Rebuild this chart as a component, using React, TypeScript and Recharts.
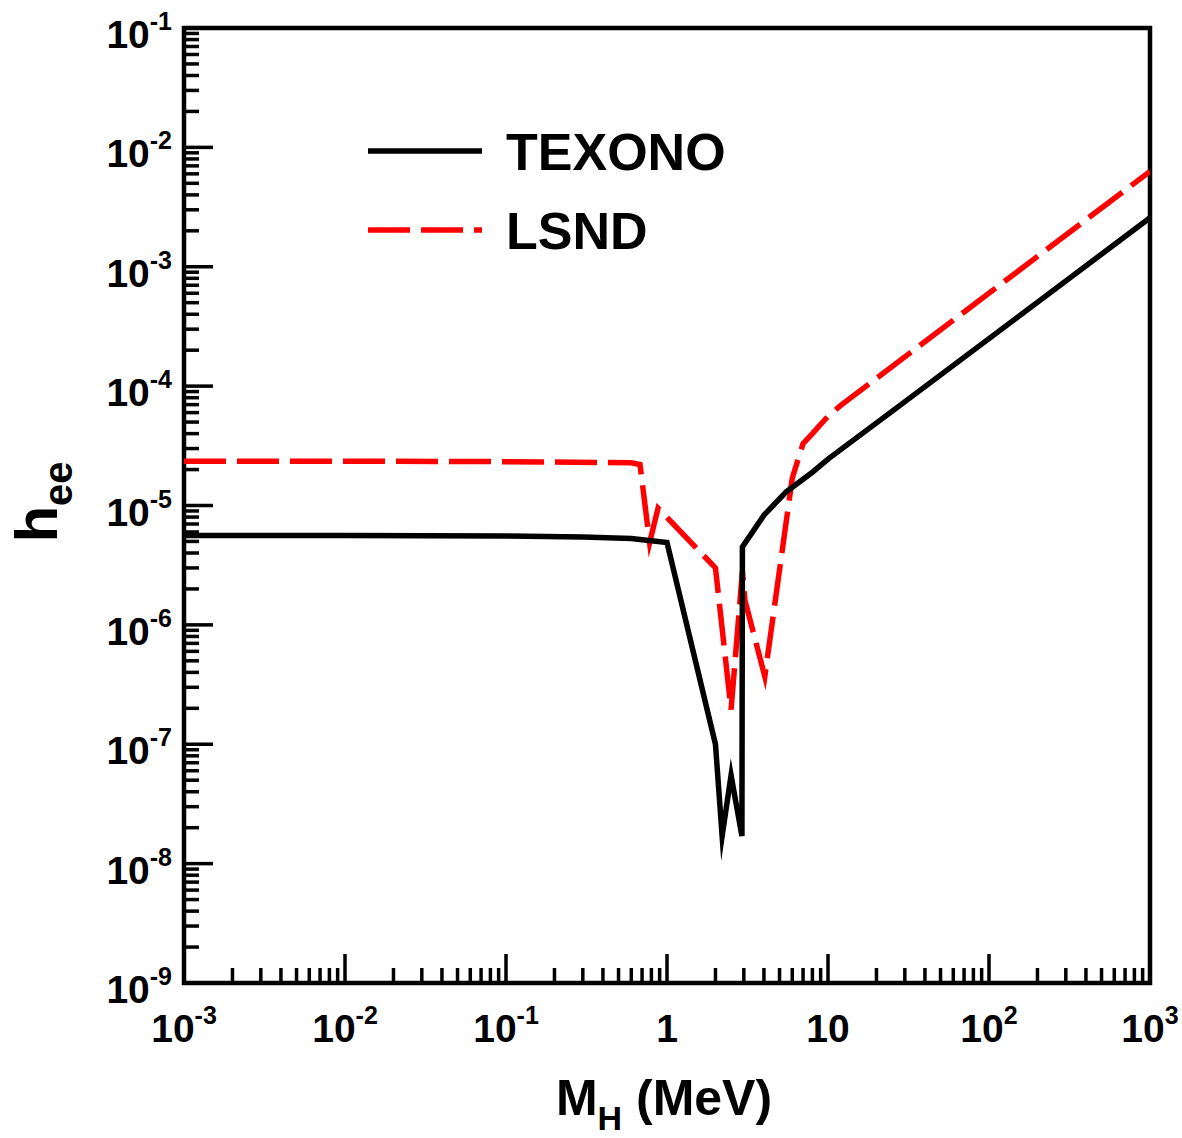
import React from 'react';
import { LineChart, Line, XAxis, YAxis, ReferenceArea, Legend } from 'recharts';

// ---- data ----
const texonoData = [
  { x: 0.001, y: 5.6e-6 },
  { x: 0.01, y: 5.6e-6 },
  { x: 0.1, y: 5.55e-6 },
  { x: 0.3, y: 5.45e-6 },
  { x: 0.6, y: 5.3e-6 },
  { x: 1.0, y: 4.9e-6 },
  { x: 2.0, y: 1.0e-7 },
  { x: 2.2, y: 1.7e-8 },
  { x: 2.5, y: 5.5e-8 },
  { x: 2.92, y: 1.7e-8 },
  { x: 2.94, y: 4.5e-6 },
  { x: 4.0, y: 8.3e-6 },
  { x: 5.5, y: 1.3e-5 },
  { x: 8.0, y: 1.9e-5 },
  { x: 10, y: 2.45e-5 },
  { x: 28, y: 6.9e-5 },
  { x: 1000, y: 2.57e-3 },
];

const lsndData = [
  { x: 0.001, y: 2.35e-5 },
  { x: 0.01, y: 2.35e-5 },
  { x: 0.1, y: 2.33e-5 },
  { x: 0.6, y: 2.28e-5 },
  { x: 0.68, y: 2.2e-5 },
  { x: 0.78, y: 4.9e-6 },
  { x: 0.88, y: 9.5e-6 },
  { x: 2.0, y: 3.0e-6 },
  { x: 2.5, y: 1.95e-7 },
  { x: 2.94, y: 2.8e-6 },
  { x: 3.05, y: 1.6e-6 },
  { x: 4.05, y: 3.7e-7 },
  { x: 6.0, y: 1.7e-5 },
  { x: 7.0, y: 3.3e-5 },
  { x: 8.0, y: 4.0e-5 },
  { x: 10, y: 5.6e-5 },
  { x: 12, y: 6.9e-5 },
  { x: 1000, y: 6.3e-3 },
];

const xMajor = [1e-3, 1e-2, 1e-1, 1, 10, 1e2, 1e3];
const xMajorLabels = [
  { base: '10', exp: '-3' },
  { base: '10', exp: '-2' },
  { base: '10', exp: '-1' },
  { base: '1', exp: '' },
  { base: '10', exp: '' },
  { base: '10', exp: '2' },
  { base: '10', exp: '3' },
];
const yMajor = [1e-9, 1e-8, 1e-7, 1e-6, 1e-5, 1e-4, 1e-3, 1e-2, 1e-1];
const yMajorLabels = [
  { base: '10', exp: '-9' },
  { base: '10', exp: '-8' },
  { base: '10', exp: '-7' },
  { base: '10', exp: '-6' },
  { base: '10', exp: '-5' },
  { base: '10', exp: '-4' },
  { base: '10', exp: '-3' },
  { base: '10', exp: '-2' },
  { base: '10', exp: '-1' },
];
const minorMultipliers = [2, 3, 4, 5, 6, 7, 8, 9];

const seriesNames = ['TEXONO', 'LSND'];
const xTitle = { main: 'M', sub: 'H', rest: ' (MeV)' };
const yTitle = { main: 'h', sub: 'ee' };

const buildTicks = (majors: number[]) => {
  const out: number[] = [];
  majors.forEach((m, i) => {
    out.push(m);
    if (i < majors.length - 1) minorMultipliers.forEach((k) => out.push(m * k));
  });
  return out;
};
const xTicks = buildTicks(xMajor);
const yTicks = buildTicks(yMajor);

const FONT = '"Liberation Sans", Arial, Helvetica, sans-serif';
const DASH = '42 11';

const majorIndex = (majors: number[], v: number) =>
  majors.findIndex((m) => Math.abs(Math.log10(m) - Math.log10(v)) < 1e-6);

function XTick(props: any) {
  const { x, y, payload } = props;
  const idx = majorIndex(xMajor, payload.value);
  const major = idx >= 0;
  const len = major ? 29 : 15;
  const lab = major ? xMajorLabels[idx] : null;
  return (
    <g>
      <line x1={x} x2={x} y1={y} y2={y - len} stroke="#000" strokeWidth={3.5} />
      {lab && (
        <text x={x} y={y + 59} textAnchor="middle" fontFamily={FONT} fontWeight="bold" fontSize={39} fill="#000">
          {lab.base}
          {lab.exp && (
            <tspan dy={-18} fontSize={25}>
              {lab.exp}
            </tspan>
          )}
        </text>
      )}
    </g>
  );
}

function YTick(props: any) {
  const { x, y, payload } = props;
  const idx = majorIndex(yMajor, payload.value);
  const major = idx >= 0;
  const len = major ? 29 : 15;
  const lab = major ? yMajorLabels[idx] : null;
  return (
    <g>
      <line x1={x} x2={x + len} y1={y} y2={y} stroke="#000" strokeWidth={3.5} />
      {lab && (
        <text x={x - 12} y={y + 20} textAnchor="end" fontFamily={FONT} fontWeight="bold" fontSize={39} fill="#000">
          {lab.base}
          <tspan dy={-18} fontSize={25}>
            {lab.exp}
          </tspan>
        </text>
      )}
    </g>
  );
}

const XTitleLabel = () => (
  <text x={664} y={1115} textAnchor="middle" fontFamily={FONT} fontWeight="bold" fontSize={50} fill="#000">
    {xTitle.main}
    <tspan dy={15} fontSize={34}>{xTitle.sub}</tspan>
    <tspan dy={-15}>{xTitle.rest}</tspan>
  </text>
);

const YTitleLabel = () => (
  <text
    x={57}
    y={502}
    transform="rotate(-90 57 502)"
    textAnchor="middle"
    fontFamily={FONT}
    fontWeight="bold"
    fontSize={60}
    fill="#000"
  >
    {yTitle.main}
    <tspan dy={15} fontSize={40}>{yTitle.sub}</tspan>
  </text>
);

const LegendContent = () => (
  <svg width={420} height={180}>
    <line x1={8} x2={122} y1={51} y2={51} stroke="#000" strokeWidth={5.5} />
    <text x={146} y={70} fontFamily={FONT} fontWeight="bold" fontSize={52} fill="#000">
      {seriesNames[0]}
    </text>
    <line x1={8} x2={122} y1={130} y2={130} stroke="#ff0000" strokeWidth={5.5} strokeDasharray={DASH} />
    <text x={146} y={149} fontFamily={FONT} fontWeight="bold" fontSize={52} fill="#000">
      {seriesNames[1]}
    </text>
  </svg>
);

export default function App() {
  return (
    <div style={{ position: 'absolute', left: 0, top: 0, background: '#fff' }}>
      <LineChart width={1182} height={1138} margin={{ top: 28, right: 32, bottom: 95, left: 84 }}>
        <XAxis
          type="number"
          dataKey="x"
          scale="log"
          domain={[1e-3, 1e3]}
          allowDataOverflow
          ticks={xTicks}
          interval={0}
          tick={(p: any) => <XTick {...p} />}
          tickSize={0}
          tickMargin={0}
          tickLine={false}
          axisLine={false}
          height={60}
          label={() => <XTitleLabel />}
        />
        <YAxis
          type="number"
          dataKey="y"
          scale="log"
          domain={[1e-9, 1e-1]}
          allowDataOverflow
          ticks={yTicks}
          interval={0}
          tick={(p: any) => <YTick {...p} />}
          tickSize={0}
          tickMargin={0}
          tickLine={false}
          axisLine={false}
          width={100}
          label={() => <YTitleLabel />}
        />
        <Legend
          layout="vertical"
          align="center"
          verticalAlign="middle"
          wrapperStyle={{ position: 'absolute', left: 360, top: 100, width: 420, height: 180 }}
          content={() => <LegendContent />}
        />
        <Line
          data={lsndData}
          dataKey="y"
          name={seriesNames[1]}
          type="linear"
          stroke="#ff0000"
          strokeWidth={5.5}
          strokeDasharray={DASH}
          strokeMiterlimit={10}
          dot={false}
          activeDot={false}
          isAnimationActive={false}
        />
        <Line
          data={texonoData}
          dataKey="y"
          name={seriesNames[0]}
          type="linear"
          stroke="#000"
          strokeWidth={5.5}
          strokeMiterlimit={10}
          dot={false}
          activeDot={false}
          isAnimationActive={false}
        />
        <ReferenceArea
          x1={1e-3}
          x2={1e3}
          y1={1e-9}
          y2={1e-1}
          fill="none"
          fillOpacity={0}
          stroke="#000"
          strokeWidth={4.5}
          ifOverflow="visible"
        />
      </LineChart>
    </div>
  );
}
